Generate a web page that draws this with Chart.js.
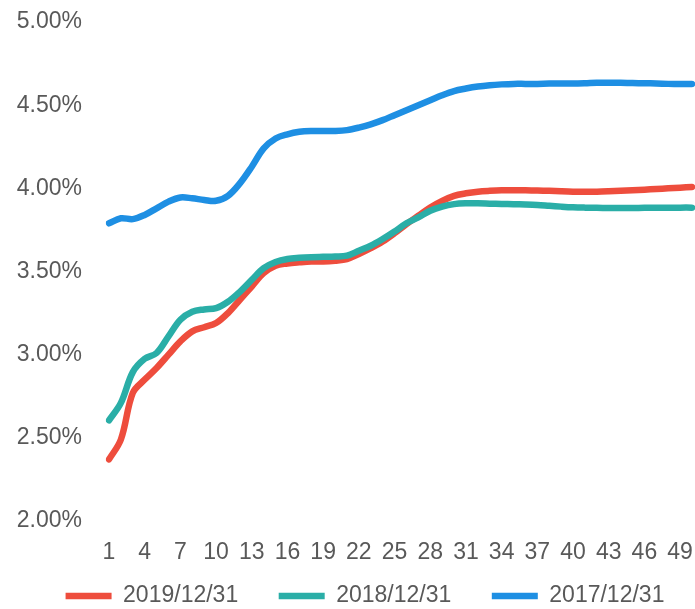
<!DOCTYPE html>
<html>
<head>
<meta charset="utf-8">
<script src="https://cdn.jsdelivr.net/npm/chart.js@4/dist/chart.umd.min.js"></script>
<style>
html,body{margin:0;padding:0;background:#fff;}
#wrap{width:695px;height:609px;position:relative;}
</style>
</head>
<body>
<div id="wrap"><canvas id="c" width="695" height="609"></canvas></div>
<script>
const categories = ['1','2','3','4','5','6','7','8','9','10','11','12','13','14','15','16','17','18','19','20','21','22','23','24','25','26','27','28','29','30','31','32','33','34','35','36','37','38','39','40','41','42','43','44','45','46','47','48','49','50'];
const seriesNames = ['2019/12/31','2018/12/31','2017/12/31'];
const series2019 = [2.37,2.49,2.77,2.85,2.92,3.00,3.08,3.14,3.165,3.19,3.25,3.33,3.41,3.49,3.535,3.548,3.555,3.56,3.56,3.565,3.575,3.605,3.64,3.68,3.73,3.785,3.835,3.885,3.925,3.955,3.97,3.98,3.985,3.988,3.988,3.988,3.987,3.985,3.982,3.98,3.98,3.98,3.982,3.985,3.988,3.992,3.996,4.0,4.004,4.008];
const series2018 = [2.605,2.71,2.895,2.975,3.01,3.11,3.21,3.258,3.272,3.28,3.318,3.378,3.45,3.52,3.557,3.575,3.582,3.586,3.588,3.59,3.595,3.625,3.655,3.695,3.74,3.79,3.825,3.865,3.89,3.905,3.91,3.91,3.908,3.906,3.905,3.903,3.9,3.895,3.89,3.886,3.884,3.883,3.882,3.882,3.882,3.883,3.883,3.883,3.884,3.884];
const series2017 = [3.79,3.82,3.815,3.84,3.88,3.92,3.945,3.94,3.93,3.925,3.955,4.03,4.13,4.24,4.30,4.325,4.34,4.345,4.345,4.345,4.35,4.365,4.385,4.41,4.44,4.47,4.50,4.53,4.56,4.585,4.60,4.612,4.62,4.625,4.628,4.628,4.628,4.63,4.63,4.63,4.632,4.635,4.635,4.635,4.633,4.632,4.63,4.628,4.627,4.627];
const yTickValues = [2.0,2.5,3.0,3.5,4.0,4.5,5.0];
const xTickEvery = 3;

const colors = ['#EE4D3D','#2AAEA7','#1E8FE3'];
const textColor = '#595959';
const FONT = 'Liberation Sans, Arial, sans-serif';

function ds(label, data, color, order){
  return {label, data, borderColor: color, backgroundColor: color, borderWidth: 6.5,
    pointRadius: 0, pointHoverRadius: 0, tension: 0.35, fill: false,
    borderCapStyle: 'round', borderJoinStyle: 'round', order};
}

const legendPlace = {
  id: 'legendPlace',
  afterLayout(chart) {
    const lg = chart.legend;
    if (!lg) return;
    lg.top = 544; lg.bottom = 609; lg.height = 65;
    lg.left += 19; lg.right += 19;
  }
};

new Chart(document.getElementById('c'), {
  type: 'line',
  data: {
    labels: categories,
    datasets: [
      ds(seriesNames[0], series2019, colors[0], 1),
      ds(seriesNames[1], series2018, colors[1], 0),
      ds(seriesNames[2], series2017, colors[2], 2)
    ]
  },
  plugins: [legendPlace],
  options: {
    responsive: false,
    animation: false,
    devicePixelRatio: 1,
    layout: { padding: { left: 0, right: 3, top: 22, bottom: 0 } },
    plugins: {
      tooltip: { enabled: false },
      legend: {
        position: 'bottom',
        maxHeight: 38,
        labels: {
          usePointStyle: true,
          pointStyle: 'line',
          pointStyleWidth: 46,
          padding: 40.5,
          color: textColor,
          font: { family: FONT, size: 23 },
          sort: (a, b) => a.datasetIndex - b.datasetIndex
        }
      }
    },
    scales: {
      x: {
        grid: { display: false, drawTicks: false },
        border: { display: false },
        ticks: {
          autoSkip: false, maxRotation: 0, minRotation: 0, padding: 18,
          color: textColor, font: { family: FONT, size: 23 },
          callback: (v, i) => (i % xTickEvery === 0 ? categories[i] : '')
        },
        afterFit: (s) => { s.height = 50; s.paddingLeft = 0; s.paddingRight = 0; }
      },
      y: {
        min: yTickValues[0], max: yTickValues[yTickValues.length - 1],
        grid: { display: false, drawTicks: false },
        border: { display: false },
        afterBuildTicks: (s) => { s.ticks = yTickValues.map(v => ({ value: v })); },
        ticks: {
          padding: 27,
          color: textColor, font: { family: FONT, size: 23 },
          callback: (v) => Number(v).toFixed(2) + '%'
        },
        afterFit: (s) => { s.width = 109; s.paddingTop = 0; s.paddingBottom = 0; }
      }
    }
  }
});
</script>
</body>
</html>
